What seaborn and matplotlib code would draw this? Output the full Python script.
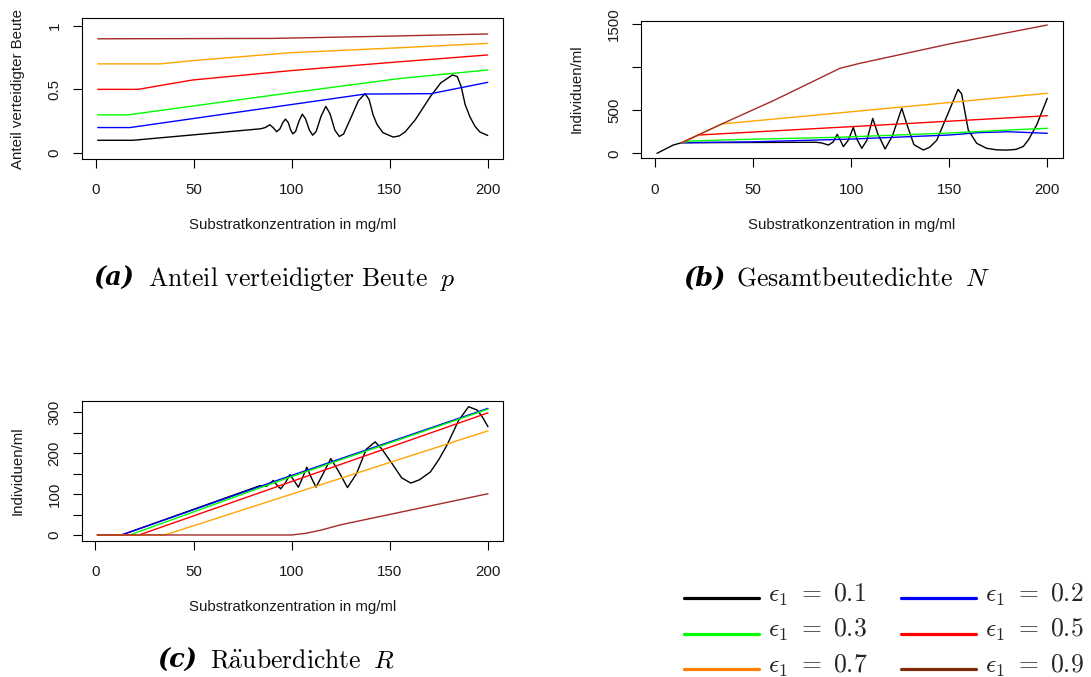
import matplotlib
matplotlib.use("Agg")
import matplotlib.pyplot as plt
import pandas as pd
import seaborn as sns
from matplotlib.lines import Line2D
from matplotlib.transforms import Affine2D

# ---------------------------------------------------------------------------
# Data: substrate concentration (mg/ml) against model outputs for six eps_1
# ---------------------------------------------------------------------------
eps_values = [0.1, 0.2, 0.3, 0.5, 0.7, 0.9]

# (a) share of defended prey p
a_x_01 = [1, 19, 84, 86.5, 88.8, 90.5, 92.3, 94, 95.5, 96.8, 98.2, 99.5, 100.6, 102, 103.7,
          105.4, 107, 109, 110.7, 112.5, 115, 117.4, 119.5, 122, 124.3, 126.5, 130, 134,
          137.4, 139.5, 141.5, 143.5, 146.5, 151.8, 155, 158, 163, 170.6, 176, 182, 184.5,
          186.5, 188.5, 190.9, 193.5, 196, 200]
a_y_01 = [0.10, 0.10, 0.19, 0.20, 0.222, 0.20, 0.167, 0.19, 0.24, 0.266, 0.24, 0.18, 0.150,
          0.17, 0.25, 0.305, 0.27, 0.18, 0.140, 0.17, 0.29, 0.366, 0.31, 0.18, 0.130, 0.15,
          0.27, 0.41, 0.466, 0.42, 0.30, 0.225, 0.16, 0.125, 0.135, 0.168, 0.26, 0.44, 0.55,
          0.613, 0.60, 0.52, 0.38, 0.285, 0.21, 0.165, 0.138]
a_x_02 = [1, 17.5, 137.4, 171, 200]
a_y_02 = [0.2, 0.2, 0.463, 0.466, 0.555]
a_x_03 = [1, 16.6, 50, 100, 155, 200]
a_y_03 = [0.3, 0.3, 0.37, 0.474, 0.585, 0.652]
a_x_05 = [1, 21.7, 49.2, 99.5, 155.3, 200]
a_y_05 = [0.5, 0.5, 0.573, 0.647, 0.717, 0.77]
a_x_07 = [1, 32.8, 49.2, 99.5, 155.3, 200]
a_y_07 = [0.7, 0.7, 0.725, 0.788, 0.827, 0.861]
a_x_09 = [1, 90, 150, 200]
a_y_09 = [0.897, 0.9, 0.918, 0.935]

# (b) total prey density N
b_x_01 = [1, 9.3, 13.6, 82, 85, 88.4, 90.8, 92.9, 94.5, 96, 98.5, 101.1, 103, 105.4, 108,
          111, 113.5, 117.3, 121, 125.8, 128.5, 132, 136.8, 140, 143.6, 148.7, 154.5, 156.3,
          159.7, 164, 169, 174.2, 179.3, 184, 187.8, 190.5, 194.6, 200]
b_y_01 = [0, 96, 123, 128, 120, 96, 130, 220, 150, 77, 150, 300, 160, 58, 150, 405, 230, 50,
          200, 522, 330, 100, 38, 70, 150, 425, 742, 690, 270, 116, 58, 40, 37, 45, 80, 160,
          330, 638]
b_x_02 = [13.6, 50, 100, 150, 165, 180, 200]
b_y_02 = [123, 133, 165, 212, 240, 250, 232]
b_x_03 = [13.6, 18, 43, 94, 150, 180, 200]
b_y_03 = [123, 142, 160, 186, 235, 270, 290]
b_x_05 = [13.6, 22.1, 100, 200]
b_y_05 = [123, 212, 309, 436]
b_x_07 = [13.6, 34, 125.8, 200]
b_y_07 = [123, 340, 537, 696]
b_x_09 = [13.6, 34, 60.3, 94.3, 104.5, 150, 200]
b_y_09 = [123, 340, 610, 986, 1044, 1268, 1488]

# (c) predator density R
c_x_01 = [1, 13.3, 84, 87.2, 90.6, 92.5, 94.4, 96.8, 99.1, 101.3, 103.4, 105.5, 107.7, 110,
          112.4, 116, 119.9, 124, 128.4, 133, 138, 142.5, 146, 151.8, 156, 160.7, 165, 170.6,
          175, 179.1, 185, 190.1, 194.4, 197, 200]
c_y_01 = [0, 0, 121, 119, 133.5, 122, 113, 128, 148, 132, 117, 140, 166, 140, 117, 150, 187,
          155, 116, 150, 210, 228, 210, 170, 140, 127, 135, 154, 185, 220, 280, 314, 306, 290,
          265]
c_x_02 = [1, 13.3, 94, 200]
c_y_02 = [0, 0, 136, 310]
c_x_03 = [1, 17.5, 94, 200]
c_y_03 = [0, 0, 133, 308]
c_x_05 = [1, 22.2, 200]
c_y_05 = [0, 0, 299]
c_x_07 = [1, 35.4, 200]
c_y_07 = [0, 0, 255]
c_x_09 = [1, 100, 107, 115, 125, 200]
c_y_09 = [0, 0, 4, 12, 25, 101]

# ---------------------------------------------------------------------------
# Styling
# ---------------------------------------------------------------------------
sns.set_theme(style="white")
plt.rcParams["font.family"] = ["Liberation Sans", "DejaVu Sans"]
plt.rcParams["mathtext.fontset"] = "cm"

line_colors = ["#000000", "#0000FF", "#00FF00", "#FF0000", "#FFA500", "#A52A2A"]
key_colors = ["#000000", "#0000FF", "#00FF00", "#FF0000", "#FF8000", "#7F2A0A"]
text_color = "#1a1a1a"

W, H = 1091, 677
fig = plt.figure(figsize=(W / 100, H / 100), dpi=100)
fig.patch.set_facecolor("white")


def box(left, top, right, bottom):
    return [left / W, 1 - bottom / H, (right - left) / W, (bottom - top) / H]


def fig_text(px, py, s, **kw):
    kw.setdefault("color", text_color)
    return fig.text(px / W, 1 - py / H, s, **kw)


def draw_panel(ax, series, ylim, yticks, yticklabels):
    for (xs, ys), col in zip(series, line_colors):
        df = pd.DataFrame({"x": xs, "y": ys})
        sns.lineplot(data=df, x="x", y="y", ax=ax, color=col, linewidth=1.0,
                     estimator=None, sort=False, legend=False)
    ax.set_xlim(-7, 207.8)
    ax.set_ylim(*ylim)
    ax.set_xticks([0, 50, 100, 150, 200])
    ax.set_xticklabels(["0", "50", "100", "150", "200"])
    ax.set_yticks(yticks)
    ax.set_yticklabels(yticklabels, rotation=90, va="center")
    ax.set_xlabel("")
    ax.set_ylabel("")
    ax.tick_params(axis="both", direction="out", length=6.5, width=0.8,
                   colors="#000000", labelcolor=text_color, labelsize=10.8,
                   bottom=True, left=True)
    ax.tick_params(axis="x", pad=11)
    ax.tick_params(axis="y", pad=8)
    for sp in ax.spines.values():
        sp.set_visible(True)
        sp.set_color("#000000")
        sp.set_linewidth(0.8)
    ax.set_facecolor("white")


ax_a = fig.add_axes(box(82, 18.3, 503, 159))
draw_panel(ax_a,
           [(a_x_01, a_y_01), (a_x_02, a_y_02), (a_x_03, a_y_03),
            (a_x_05, a_y_05), (a_x_07, a_y_07), (a_x_09, a_y_09)],
           (-0.047, 1.058), [0, 0.5, 1], ["0", "0.5", "1"])

ax_b = fig.add_axes(box(641.3, 20.7, 1062.6, 158.3))
draw_panel(ax_b,
           [(b_x_01, b_y_01), (b_x_02, b_y_02), (b_x_03, b_y_03),
            (b_x_05, b_y_05), (b_x_07, b_y_07), (b_x_09, b_y_09)],
           (-58, 1538), [0, 500, 1000, 1500], ["0", "500", "", "1500"])

ax_c = fig.add_axes(box(81.7, 401, 503.3, 540.7))
draw_panel(ax_c,
           [(c_x_01, c_y_01), (c_x_02, c_y_02), (c_x_03, c_y_03),
            (c_x_05, c_y_05), (c_x_07, c_y_07), (c_x_09, c_y_09)],
           (-14, 328), [0, 50, 100, 150, 200, 250, 300],
           ["0", "", "100", "", "200", "", "300"])

# axis titles
xlab = "Substratkonzentration in mg/ml"
fig_text(292.5, 225, xlab, ha="center", va="center", fontsize=10.8)
fig_text(852, 225, xlab, ha="center", va="center", fontsize=10.8)
fig_text(292.5, 606.5, xlab, ha="center", va="center", fontsize=10.8)
fig_text(18, 89, "Anteil verteidigter Beute", rotation=90, ha="center", va="center",
         fontsize=10.8)
fig_text(577, 89, "Individuen/ml", rotation=90, ha="center", va="center", fontsize=10.8)
fig_text(18, 471, "Individuen/ml", rotation=90, ha="center", va="center", fontsize=10.8)

# sub-captions
cap_size = 18.5
tag_kw = dict(family="DejaVu Serif", weight="bold", style="italic", fontsize=cap_size,
              va="baseline", ha="left", color="#000000")
cap_kw = dict(fontsize=cap_size, va="baseline", ha="left", color="#000000")
fig_text(93, 286, "(a)", **tag_kw)
fig_text(148, 286, r"$\mathrm{Anteil\ verteidigter\ Beute}\ \;p$", **cap_kw)
fig_text(683, 286, "(b)", **tag_kw)
fig_text(736, 286, r"$\mathrm{Gesamtbeutedichte}\ \;N$", **cap_kw)
fig_text(157, 668, "(c)", **tag_kw)
fig_text(210, 668, r"$\mathrm{R\ddot{a}uberdichte}\ \;R$", **cap_kw)

# shared key, filled row by row
order = [0, 2, 4, 1, 3, 5]
handles = [Line2D([], [], color=key_colors[i], linewidth=2.3) for i in order]
labels = [r"$\epsilon_1\ =\ %s$" % eps_values[i] for i in order]
leg = fig.legend(handles, labels, ncol=2, loc="center",
                 bbox_to_anchor=(884 / W, 1 - 630 / H), frameon=False, fontsize=18.5,
                 handlelength=2.92, handletextpad=0.35, columnspacing=1.32,
                 labelspacing=0.36, borderpad=0, borderaxespad=0)
# key lines sit on the text baseline
for ln in leg.get_lines():
    ln.set_transform(ln.get_transform() + Affine2D().translate(0, -6))

fig.savefig("out.png", dpi=100, facecolor="white")
